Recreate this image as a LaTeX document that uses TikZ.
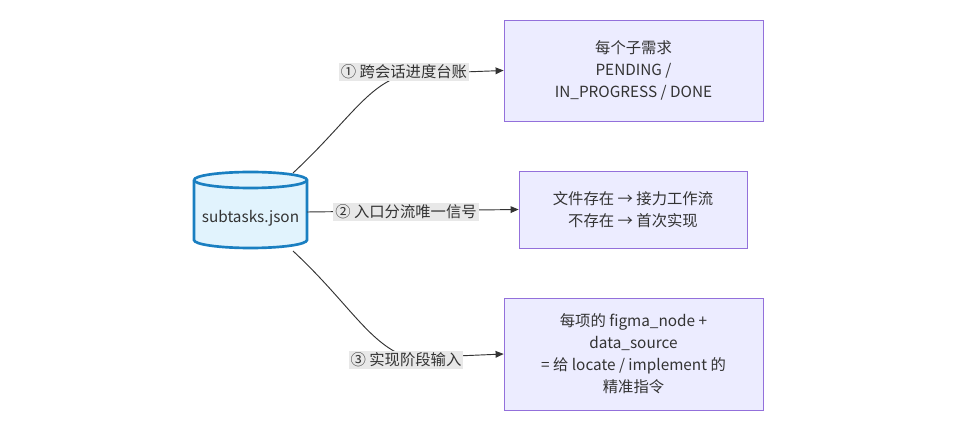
\documentclass[tikz,border=0pt]{standalone}
\usepackage{fontspec}
\setmainfont{Noto Sans CJK SC}
\usetikzlibrary{arrows.meta,positioning}
\definecolor{dbfill}{RGB}{225,243,253}
\definecolor{dbline}{RGB}{26,127,193}
\definecolor{boxfill}{RGB}{236,236,255}
\definecolor{boxline}{RGB}{147,112,219}
\definecolor{edgelab}{RGB}{232,232,232}
\definecolor{textgray}{RGB}{51,51,51}
\tikzset{
    infobox/.style={draw=boxline, fill=boxfill, line width=0.6pt, align=center,
        font=\fontsize{11.5}{16.5}\selectfont, text=textgray, inner sep=0pt},
    edgetext/.style={fill=edgelab, font=\fontsize{11.5}{14}\selectfont, text=textgray,
        inner sep=1.5pt},
    flow/.style={draw=textgray, line width=0.7pt, -{Triangle[length=6pt,width=5pt]}}
}
\begin{document}
\begin{tikzpicture}[x=0.75pt, y=-0.75pt]
    % Background
    \useasboundingbox (0,0) rectangle (960,438);

    % Data store
    \draw[dbline, fill=dbfill, line width=2pt]
        (194,180) -- (194,240) arc[start angle=180, end angle=0, x radius=56.5, y radius=8]
        -- (307,180) arc[start angle=0, end angle=-180, x radius=56.5, y radius=8];
    \draw[dbline, line width=2pt] (194,180) arc[start angle=180, end angle=0, x radius=56.5, y radius=8];
    \node[font=\fontsize{11.5}{14}\selectfont, text=textgray] (db) at (250.5,218) {subtasks.json};
    \coordinate (dbtop) at (293,173);
    \coordinate (dbmid) at (307,212);
    \coordinate (dbbot) at (293,251);

    % Targets
    \node[infobox, minimum width=194.25pt, minimum height=75.75pt] (ledger) at (633.5,70.5)
        {每个子需求\\PENDING /\\IN\_PROGRESS / DONE};
    \node[infobox, minimum width=171pt, minimum height=57.75pt] (entry) at (633,209.5)
        {文件存在 → 接力工作流\\不存在 → 首次实现};
    \node[infobox, minimum width=194.25pt, minimum height=84pt] (impl) at (633.5,354)
        {每项的 figma\_node +\\data\_source\\= 给 locate / implement 的\\精准指令};

    % Connectors
    \draw[flow] (dbtop) .. controls (350,120) and (370,80) .. (410,74) -- (ledger.west);
    \draw[flow] (dbmid) -- (entry.west);
    \draw[flow] (dbbot) .. controls (350,304) and (370,346) .. (410,358) -- (impl.west);

    % Edge labels
    \node[edgetext] (l1) at (404,72) {① 跨会话进度台账};
    \node[edgetext] (l2) at (406,212) {② 入口分流唯一信号};
    \node[edgetext] (l3) at (406,360) {③ 实现阶段输入};
\end{tikzpicture}
\end{document}
